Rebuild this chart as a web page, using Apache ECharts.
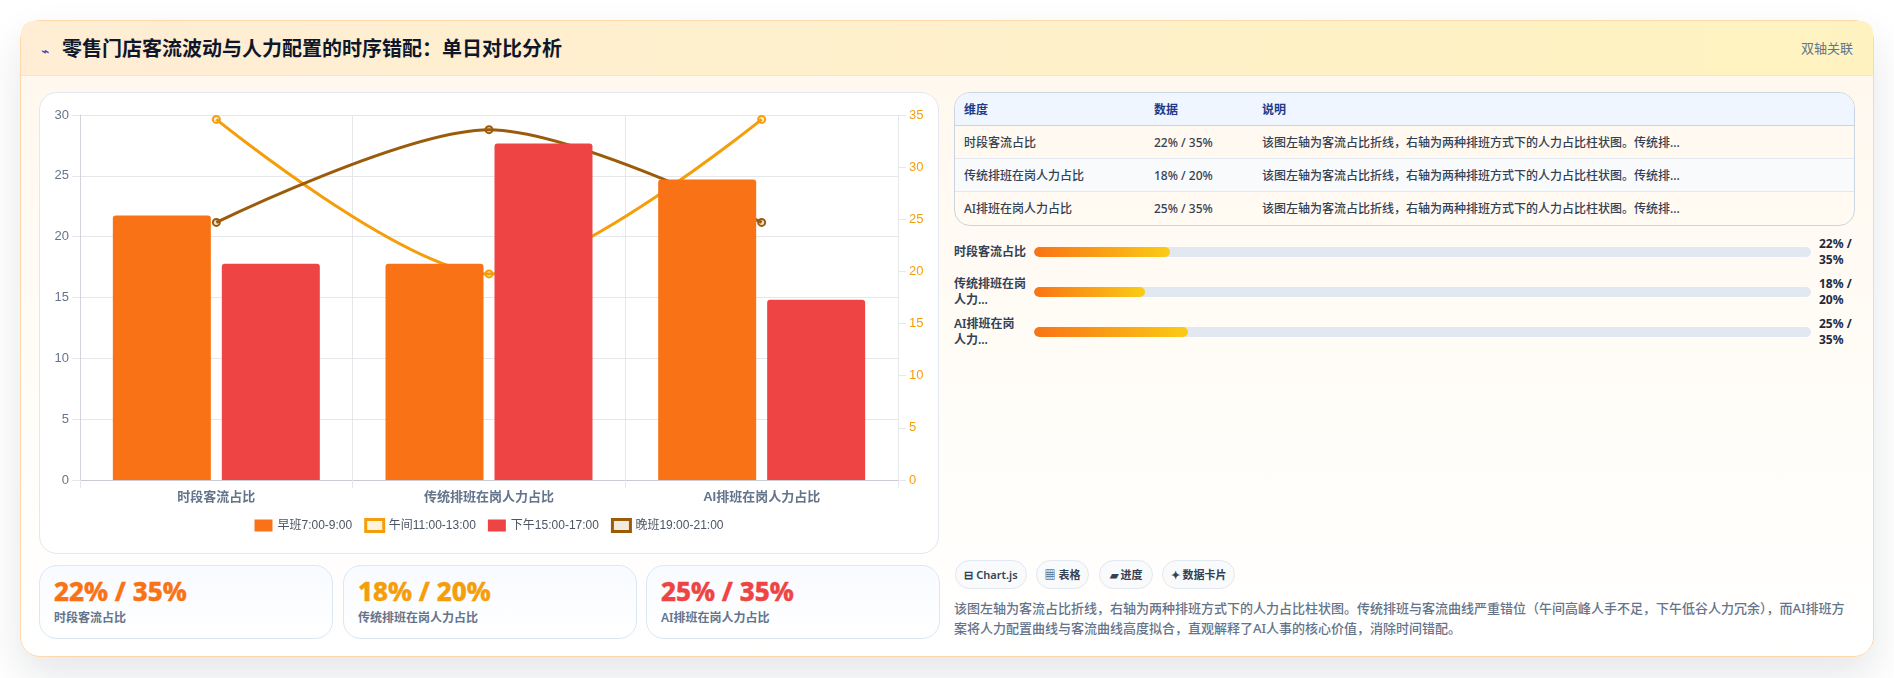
<!DOCTYPE html>
<html lang="zh">
<head>
<meta charset="utf-8">
<title>零售门店客流波动与人力配置的时序错配</title>
<script src="https://cdn.jsdelivr.net/npm/echarts@6/dist/echarts.min.js"></script>
<style>
  * { box-sizing: border-box; }
  html, body { margin: 0; width: 1894px; height: 678px; overflow: hidden; background: #fff; }
  body { font-family: "Noto Sans", "Noto Sans CJK SC", sans-serif; color: #334155; position: relative; }
  .card { position: absolute; left: 20px; top: 20px; width: 1854px; height: 637px; border: 1px solid #fed7aa; border-radius: 20px;
          background: linear-gradient(180deg, #fff7ed 0%, #fffdf8 60%, #ffffff 100%); box-shadow: 0 18px 40px rgba(15, 23, 42, .11); }
  .head { position: absolute; left: 0; top: 0; right: 0; height: 55px; border-bottom: 1px solid #e9e7e2; border-radius: 12px 12px 0 0;
          background: linear-gradient(90deg, #ffedd5, #fef3c0); }
  .title { position: absolute; left: 20px; top: 13px; font-size: 20px; line-height: 30px; font-weight: 700; color: #0f172a; white-space: nowrap; }
  .bolt { display: inline-block; width: 21px; font-size: 14px; color: #3044b8; font-weight: 400; }
  .badge { position: absolute; right: 20px; top: 18px; font-size: 13px; line-height: 18px; color: #64748b; }
  .panel { position: absolute; left: 39px; top: 92px; width: 900px; height: 462px; background: #fff; border: 1px solid #e2e8f0; border-radius: 18px; overflow: hidden; }
  #chart { position: absolute; left: -1px; top: -1px; width: 900px; height: 462px; }
  .kpi { position: absolute; top: 565px; width: 294px; height: 74px; border: 1px solid #dbe7f5; border-radius: 18px; background: linear-gradient(180deg, #f8fbff, #ffffff); padding: 10px 14px; }
  .kpi b { display: block; font-size: 26px; line-height: 30px; font-weight: 800; -webkit-text-stroke: .4px currentColor; }
  .kpi span { display: block; font-size: 12px; line-height: 18px; font-weight: 600; color: #64748b; margin-top: 3px; }
  .table { position: absolute; left: 954px; top: 92px; width: 901px; height: 134px; border: 1px solid #cbd5e1; border-radius: 16px; overflow: hidden; font-size: 12px; }
  .tr { position: absolute; left: 0; right: 0; height: 33px; border-bottom: 1px solid #e2e8f0; font-weight: 500; color: #334155; }
  .tr:last-child { border-bottom: 0; }
  .tr.th { background: #eff6ff; border-bottom: 1px solid #cbd5e1; color: #1e3a8a; font-weight: 700; }
  .tr.alt { background: #f8fafc; }
  .tr div { position: absolute; top: 0; line-height: 34px; white-space: nowrap; }
  .prog { position: absolute; left: 954px; width: 901px; height: 34px; font-size: 12px; }
  .prog .lab { position: absolute; left: 0; top: 0; width: 72px; height: 34px; display: flex; align-items: center; line-height: 16px; font-weight: 600; color: #334155; }
  .prog .track { position: absolute; left: 80px; top: 12px; width: 777px; height: 10px; border-radius: 5px; background: #e2e8f0; overflow: hidden; }
  .prog .fill { height: 100%; border-radius: 5px; background: linear-gradient(90deg, #f97316, #facc15); }
  .prog .val { position: absolute; left: 865px; top: 1px; width: 36px; line-height: 16px; font-weight: 700; color: #1e293b; }
  .chip { position: absolute; top: 560px; height: 29px; border: 1px solid #e2e8f0; border-radius: 15px; background: #f8fafc; font-size: 11px; line-height: 27px; font-weight: 600; color: #334155; text-align: center; white-space: nowrap; }
  .note { position: absolute; left: 954px; top: 599px; width: 901px; font-size: 13px; line-height: 19.5px; font-weight: 500; color: #64748b; }
</style>
</head>
<body>
<div class="card">
  <div class="head">
    <div class="title"><span class="bolt">⌁</span>零售门店客流波动与人力配置的时序错配：单日对比分析</div>
    <div class="badge">双轴关联</div>
  </div>
</div>
<div class="panel"><div id="chart"></div></div>
<div id="kpis"></div>
<div class="table" id="table"></div>
<div id="progress"></div>
<div id="chips"></div>
<div class="note" id="note"></div>

<script>
// Categories and shift values
const categories = ['时段客流占比', '传统排班在岗人力占比', 'AI排班在岗人力占比'];
const morningShift = [22, 18, 25];
const noonShift = [35, 20, 35];
const afternoonShift = [18, 28, 15];
const eveningShift = [25, 34, 25];

// Tick ranges
const leftMax = 30;
const rightMax = 35;
const tickStep = 5;
// The marks settle just below the axis scale, so they run on hidden axes slightly taller than the drawn ones
const markSettle = 0.988;

const seriesNames = ['早班7:00-9:00', '午间11:00-13:00', '下午15:00-17:00', '晚班19:00-21:00'];
const tableHead = ['维度', '数据', '说明'];
const rowNote = '该图左轴为客流占比折线，右轴为两种排班方式下的人力占比柱状图。传统排...';
const progressLabels = ['时段客流占比', '传统排班在岗人力...', 'AI排班在岗人力...'];
const chipTexts = ['⊟ Chart.js', '▦ 表格', '▰ 进度', '✦ 数据卡片'];
const noteText = '该图左轴为客流占比折线，右轴为两种排班方式下的人力占比柱状图。传统排班与客流曲线严重错位（午间高峰人手不足，下午低谷人力冗余），而AI排班方案将人力配置曲线与客流曲线高度拟合，直观解释了AI人事的核心价值，消除时间错配。';

const pairText = i => morningShift[i] + '% / ' + noonShift[i] + '%';

// Summary cards
const kpiColors = ['#f97316', '#f59e0b', '#ef4444'];
const kpiLefts = [39, 343, 646];
document.getElementById('kpis').innerHTML = categories.map((c, i) =>
  `<div class="kpi" style="left:${kpiLefts[i]}px"><b style="color:${kpiColors[i]}">${pairText(i)}</b><span>${c}</span></div>`).join('');

// Data table
const cols = [9, 199, 307];
const cells = (arr) => arr.map((t, j) => `<div style="left:${cols[j]}px">${t}</div>`).join('');
document.getElementById('table').innerHTML =
  `<div class="tr th" style="top:0">${cells(tableHead)}</div>` +
  categories.map((c, i) => `<div class="tr${i === 1 ? ' alt' : ''}" style="top:${33 * (i + 1)}px">${cells([c, pairText(i), rowNote])}</div>`).join('');

// Progress rows
const progressTops = [235, 275, 315];
const progressScale = 100 / 126;
document.getElementById('progress').innerHTML = categories.map((c, i) =>
  `<div class="prog" style="top:${progressTops[i]}px"><div class="lab"><span>${progressLabels[i]}</span></div>
   <div class="track"><div class="fill" style="width:${morningShift[i] * progressScale}%"></div></div>
   <div class="val">${pairText(i)}</div></div>`).join('');

// Feature chips
const chipBoxes = [[955, 72], [1036, 53], [1099, 54], [1162, 73]];
document.getElementById('chips').innerHTML = chipTexts.map((t, i) =>
  `<div class="chip" style="left:${chipBoxes[i][0]}px;width:${chipBoxes[i][1]}px">${t}</div>`).join('');

document.getElementById('note').textContent = noteText;

// Dual-axis chart
const chartFont = '"Liberation Sans", "Noto Sans CJK SC", sans-serif';
const gridColor = '#e5e7eb';
const chart = echarts.init(document.getElementById('chart'), null, { renderer: 'canvas' });

const lineSeries = (name, data, color) => ({
  name, type: 'line', data, yAxisIndex: 3, smooth: 0.3, z: 1, clip: false,
  symbol: 'circle', symbolSize: 7, showSymbol: true,
  lineStyle: { color, width: 3 },
  itemStyle: { color: color + '33', borderColor: color, borderWidth: 2 }
});
const barSeries = (name, data, color) => ({
  name, type: 'bar', data, yAxisIndex: 2, z: 3, barWidth: 98, barGap: '11.2%',
  itemStyle: { color, borderRadius: [3, 3, 0, 0] }
});
const legendBox = (name, color, border) => ({
  name, icon: 'rect',
  itemStyle: border ? { color: color, borderColor: border, borderWidth: 3 } : { color, borderWidth: 0 }
});

chart.setOption({
  animation: false,
  textStyle: { fontFamily: chartFont },
  grid: { left: 41, right: 41, top: 23, height: 365 },
  legend: {
    left: 210.5, top: 421, itemWidth: 18, itemHeight: 12, itemGap: 12,
    textStyle: { fontSize: 12, color: '#4b5563', fontFamily: chartFont },
    selectedMode: false,
    data: [
      legendBox(seriesNames[0], '#f97316'),
      legendBox(seriesNames[1], '#fef3dc', '#f59e0b'),
      legendBox(seriesNames[2], '#ef4444'),
      legendBox(seriesNames[3], '#f3e9dc', '#9a5c0a')
    ]
  },
  xAxis: {
    type: 'category', data: categories,
    axisLine: { show: true, lineStyle: { color: '#c8ccd2', width: 1 } },
    axisTick: { show: true, length: 8, lineStyle: { color: gridColor } },
    splitLine: { show: true, lineStyle: { color: gridColor } },
    axisLabel: { fontSize: 13, fontWeight: 600, color: '#64748b', margin: 11 }
  },
  yAxis: [
    {
      type: 'value', position: 'left', min: 0, max: leftMax, interval: tickStep,
      axisLine: { show: true, lineStyle: { color: '#d1d5db' } },
      axisTick: { show: true, length: 8, lineStyle: { color: gridColor } },
      splitLine: { show: true, lineStyle: { color: gridColor } },
      axisLabel: { fontSize: 13, color: '#64748b', margin: 11 }
    },
    {
      type: 'value', position: 'right', min: 0, max: rightMax, interval: tickStep,
      axisLine: { show: true, lineStyle: { color: gridColor } },
      axisTick: { show: true, length: 8, lineStyle: { color: gridColor } },
      splitLine: { show: false },
      axisLabel: { fontSize: 13, color: '#f59e0b', margin: 11 }
    },
    { type: 'value', show: false, min: 0, max: leftMax / markSettle },
    { type: 'value', show: false, min: 0, max: rightMax / markSettle }
  ],
  series: [
    barSeries(seriesNames[0], morningShift, '#f97316'),
    lineSeries(seriesNames[1], noonShift, '#f59e0b'),
    barSeries(seriesNames[2], afternoonShift, '#ef4444'),
    lineSeries(seriesNames[3], eveningShift, '#9a5c0a')
  ]
});
</script>
</body>
</html>
